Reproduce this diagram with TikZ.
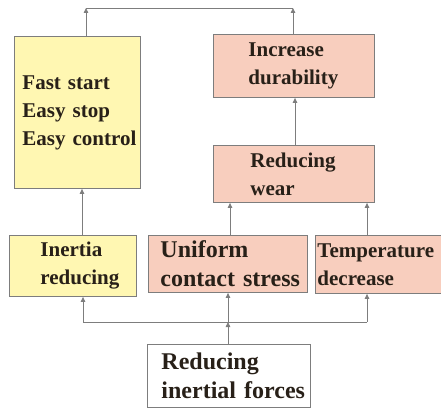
\documentclass[tikz,border=0pt]{standalone}
\usepackage{fontspec}
\setmainfont{Liberation Serif}
\usetikzlibrary{arrows.meta}
\definecolor{yel}{RGB}{255,247,178}
\definecolor{pnk}{RGB}{248,206,190}
\definecolor{edge}{RGB}{125,125,125}
\definecolor{ink}{RGB}{40,32,24}
\newcommand{\bxline}[1]{\mbox{#1}}
\tikzset{
  box/.style={draw=edge, line width=0.9pt, anchor=north west, align=left,
    text=ink, inner ysep=0pt, font=\bfseries\fontsize{21}{28}\selectfont},
  big/.style={font=\bfseries\fontsize{24}{29}\selectfont},
  conn/.style={draw=edge, line width=0.8pt},
  arr/.style={conn, -{Triangle[length=5pt,width=4.5pt]}}
}
\begin{document}
\begin{tikzpicture}[x=1pt,y=1pt]
\useasboundingbox (0,0) rectangle (441,-409);
\clip (0,0) rectangle (441,-409);
% boxes: x1,y1 ; inner xsep = left pad ; text width = W - 2 pad
\node[box, fill=yel, inner xsep=8pt, text width=110pt, minimum height=152pt] (A) at (14,-36) {\bxline{Fast start}\\\bxline{Easy stop}\\\bxline{Easy control}};
\node[box, fill=pnk, inner xsep=35pt, text width=91pt, minimum height=63pt] (B) at (213,-34) {\bxline{Increase}\\\bxline{durability}};
\node[box, fill=pnk, inner xsep=37pt, text width=87pt, minimum height=57pt] (C) at (213,-145) {\bxline{Reducing}\\\bxline{wear}};
\node[box, fill=yel, inner xsep=31pt, text width=65pt, minimum height=61pt] (D) at (9,-235) {\bxline{Inertia}\\\bxline{reducing}};
\node[box, big, fill=pnk, inner xsep=12pt, text width=135pt, minimum height=57pt] (E) at (148,-235) {\bxline{Uniform}\\\bxline{contact stress}};
\node[box, fill=pnk, inner xsep=2pt, text width=130pt, minimum height=58pt] (F) at (315,-235) {\bxline{Temperature}\\\bxline{decrease}};
\node[box, big, fill=white, inner xsep=14pt, text width=135pt, minimum height=63pt] (G) at (147,-344) {\bxline{Reducing}\\\bxline{inertial forces}};
% connector columns
\coordinate (tl) at (86,-8);
\coordinate (tr) at (293,-8);
\coordinate (xa) at (82,0);
\coordinate (xe) at (230,0);
\coordinate (xf) at (367,0);
\coordinate (xc) at (295,0);
\coordinate (bl) at (83,-322);
\coordinate (bm) at (228,-322);
\coordinate (br) at (367,-322);
% top
\draw[conn] (tl) -- (tr);
\draw[arr] (tl |- A.north) -- (tl);
\draw[arr] (tr |- B.north) -- (tr);
% middle
\draw[arr] (xa |- D.north) -- (xa |- A.south);
\draw[arr] (xe |- E.north) -- (xe |- C.south);
\draw[arr] (xf |- F.north) -- (xf |- C.south);
\draw[arr] (xc |- C.north) -- (xc |- B.south);
% bottom
\draw[conn] (bl) -- (br);
\draw[arr] (bm |- G.north) -- (bm);
\draw[arr] (bl) -- (bl |- D.south);
\draw[arr] (bm) -- (bm |- E.south);
\draw[arr] (br) -- (br |- F.south);
\end{tikzpicture}
\end{document}
